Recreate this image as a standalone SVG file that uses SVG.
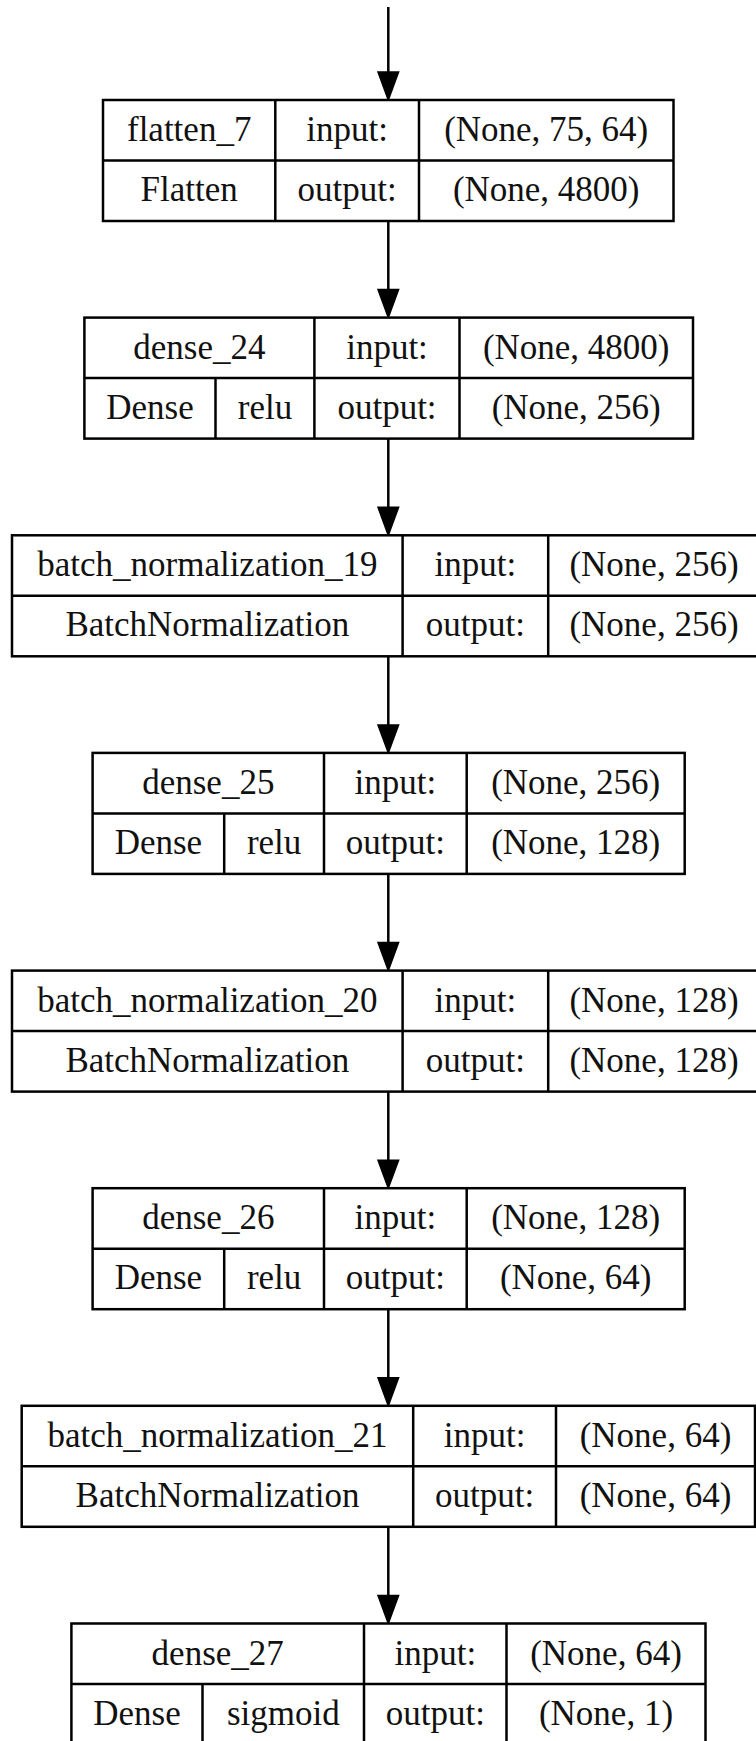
<svg xmlns="http://www.w3.org/2000/svg" width="756" height="1741" viewBox="0 0 756 1741">
<style>
.bx{fill:#fff;stroke:#000;stroke-width:2.5}
.ln{stroke:#000;stroke-width:2.5;fill:none}
.t{font-family:"Liberation Serif","Times New Roman",serif;font-size:35px;fill:#111;text-anchor:middle}
.e{stroke:#000;stroke-width:2.5;fill:none}
.ah{fill:#000;stroke:#000;stroke-width:1.5}
</style>
<rect width="756" height="1741" fill="#fff"/>
<g id="connectors">
<line class="e" x1="388.3" y1="7" x2="388.3" y2="73"/><polygon class="ah" points="378,72 398.6,72 388.3,100"/>
<line class="e" x1="388.3" y1="221" x2="388.3" y2="290.6"/><polygon class="ah" points="378,289.6 398.6,289.6 388.3,317.6"/>
<line class="e" x1="388.3" y1="438.6" x2="388.3" y2="508.3"/><polygon class="ah" points="378,507.3 398.6,507.3 388.3,535.3"/>
<line class="e" x1="388.3" y1="656.3" x2="388.3" y2="725.9"/><polygon class="ah" points="378,724.9 398.6,724.9 388.3,752.9"/>
<line class="e" x1="388.3" y1="873.9" x2="388.3" y2="943.6"/><polygon class="ah" points="378,942.6 398.6,942.6 388.3,970.6"/>
<line class="e" x1="388.3" y1="1091.6" x2="388.3" y2="1161.2"/><polygon class="ah" points="378,1160.2 398.6,1160.2 388.3,1188.2"/>
<line class="e" x1="388.3" y1="1309.2" x2="388.3" y2="1378.8"/><polygon class="ah" points="378,1377.8 398.6,1377.8 388.3,1405.8"/>
<line class="e" x1="388.3" y1="1526.8" x2="388.3" y2="1596.5"/><polygon class="ah" points="378,1595.5 398.6,1595.5 388.3,1623.5"/>
</g>
<g id="flatten_7">
<rect class="bx" x="103" y="100" width="570.5" height="121"/>
<path class="ln" d="M103 160.5H673.5M275.3 100V221M419 100V221"/>
<text class="t" x="189.2" y="141">flatten_7</text>
<text class="t" x="347.2" y="141">input:</text>
<text class="t" x="546.2" y="141">(None, 75, 64)</text>
<text class="t" x="189.2" y="201">Flatten</text>
<text class="t" x="347.2" y="201">output:</text>
<text class="t" x="546.2" y="201">(None, 4800)</text>
</g>
<g id="dense_24">
<rect class="bx" x="84.4" y="317.6" width="608.6" height="121"/>
<path class="ln" d="M84.4 378.1H693M314.4 317.6V438.6M459.5 317.6V438.6M215.5 378.1V438.6"/>
<text class="t" x="199.4" y="358.6">dense_24</text>
<text class="t" x="387" y="358.6">input:</text>
<text class="t" x="576.2" y="358.6">(None, 4800)</text>
<text class="t" x="150" y="418.6">Dense</text>
<text class="t" x="265" y="418.6">relu</text>
<text class="t" x="387" y="418.6">output:</text>
<text class="t" x="576.2" y="418.6">(None, 256)</text>
</g>
<g id="batch_normalization_19">
<rect class="bx" x="12" y="535.3" width="748" height="121"/>
<path class="ln" d="M12 595.8H760M402.6 535.3V656.3M548.2 535.3V656.3"/>
<text class="t" x="207.3" y="576.3">batch_normalization_19</text>
<text class="t" x="475.4" y="576.3">input:</text>
<text class="t" x="654" y="576.3">(None, 256)</text>
<text class="t" x="207.3" y="636.3">BatchNormalization</text>
<text class="t" x="475.4" y="636.3">output:</text>
<text class="t" x="654" y="636.3">(None, 256)</text>
</g>
<g id="dense_25">
<rect class="bx" x="92.6" y="752.9" width="592.1" height="121"/>
<path class="ln" d="M92.6 813.4H684.7M324 752.9V873.9M466.7 752.9V873.9M224.2 813.4V873.9"/>
<text class="t" x="208.3" y="793.9">dense_25</text>
<text class="t" x="395.4" y="793.9">input:</text>
<text class="t" x="575.7" y="793.9">(None, 256)</text>
<text class="t" x="158.4" y="853.9">Dense</text>
<text class="t" x="274.1" y="853.9">relu</text>
<text class="t" x="395.4" y="853.9">output:</text>
<text class="t" x="575.7" y="853.9">(None, 128)</text>
</g>
<g id="batch_normalization_20">
<rect class="bx" x="12" y="970.6" width="748" height="121"/>
<path class="ln" d="M12 1031.1H760M402.6 970.6V1091.6M548.2 970.6V1091.6"/>
<text class="t" x="207.3" y="1011.6">batch_normalization_20</text>
<text class="t" x="475.4" y="1011.6">input:</text>
<text class="t" x="654" y="1011.6">(None, 128)</text>
<text class="t" x="207.3" y="1071.6">BatchNormalization</text>
<text class="t" x="475.4" y="1071.6">output:</text>
<text class="t" x="654" y="1071.6">(None, 128)</text>
</g>
<g id="dense_26">
<rect class="bx" x="92.6" y="1188.2" width="592.1" height="121"/>
<path class="ln" d="M92.6 1248.7H684.7M324 1188.2V1309.2M466.7 1188.2V1309.2M224.2 1248.7V1309.2"/>
<text class="t" x="208.3" y="1229.2">dense_26</text>
<text class="t" x="395.4" y="1229.2">input:</text>
<text class="t" x="575.7" y="1229.2">(None, 128)</text>
<text class="t" x="158.4" y="1289.2">Dense</text>
<text class="t" x="274.1" y="1289.2">relu</text>
<text class="t" x="395.4" y="1289.2">output:</text>
<text class="t" x="575.7" y="1289.2">(None, 64)</text>
</g>
<g id="batch_normalization_21">
<rect class="bx" x="21.7" y="1405.8" width="733.3" height="121"/>
<path class="ln" d="M21.7 1466.3H755M413.2 1405.8V1526.8M556 1405.8V1526.8"/>
<text class="t" x="217.5" y="1446.8">batch_normalization_21</text>
<text class="t" x="484.6" y="1446.8">input:</text>
<text class="t" x="655.5" y="1446.8">(None, 64)</text>
<text class="t" x="217.5" y="1506.8">BatchNormalization</text>
<text class="t" x="484.6" y="1506.8">output:</text>
<text class="t" x="655.5" y="1506.8">(None, 64)</text>
</g>
<g id="dense_27">
<rect class="bx" x="71.4" y="1623.5" width="634.1" height="121"/>
<path class="ln" d="M71.4 1684H705.5M364 1623.5V1744.5M506.5 1623.5V1744.5M202.5 1684V1744.5"/>
<text class="t" x="217.7" y="1664.5">dense_27</text>
<text class="t" x="435.3" y="1664.5">input:</text>
<text class="t" x="606" y="1664.5">(None, 64)</text>
<text class="t" x="137" y="1724.5">Dense</text>
<text class="t" x="283.3" y="1724.5">sigmoid</text>
<text class="t" x="435.3" y="1724.5">output:</text>
<text class="t" x="606" y="1724.5">(None, 1)</text>
</g>
</svg>
